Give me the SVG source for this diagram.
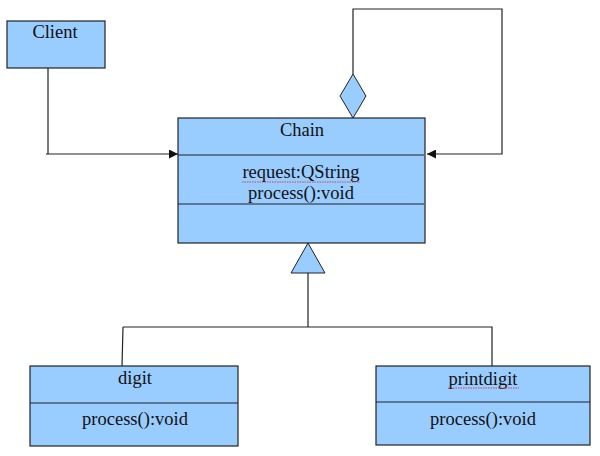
<svg xmlns="http://www.w3.org/2000/svg" width="600" height="456" viewBox="0 0 600 456">
<defs>
<style>
.box{fill:#99ccff;stroke:#222;stroke-width:1.2}
.div{stroke:#222;stroke-width:1.2;fill:none}
.ln{stroke:#222;stroke-width:1.2;fill:none}
text{font-family:"Liberation Serif","Times New Roman",serif;font-size:18.5px;fill:#111;text-anchor:middle}
.sq{stroke:#d22;stroke-width:0.8;fill:none;stroke-dasharray:1.5 1}
</style>
<marker id="arr" viewBox="0 0 10 10" refX="10" refY="5" markerWidth="9" markerHeight="9" markerUnits="userSpaceOnUse" orient="auto">
<path d="M0,0 L10,5 L0,10 z" fill="#111"/>
</marker>
</defs>
<rect width="600" height="456" fill="#fff"/>
<g id="connectors">
<path class="ln" d="M48,68 V154 M46,154 H178" marker-end="url(#arr)"/>
<path class="ln" d="M353,74 V9 H502 V154 H427" marker-end="url(#arr)"/>
<polygon points="353,74 366,96 353,118 340,96" fill="#99ccff" stroke="#222" stroke-width="1"/>
<polygon points="308,243 325,273 291,273" fill="#99ccff" stroke="#222" stroke-width="1"/>
<path class="ln" d="M308,273 V327 M123,327 H492 V366 M123,327 L122,366"/>
</g>
<g id="client">
<rect class="box" x="7" y="21" width="98" height="47"/>
<text x="55" y="38">Client</text>
</g>
<g id="chain">
<rect class="box" x="178" y="118" width="247" height="125"/>
<line class="div" x1="178" y1="155" x2="424" y2="155"/>
<line class="div" x1="178" y1="204" x2="424" y2="204"/>
<text x="302" y="136">Chain</text>
<text x="301" y="178">request:QString</text>
<path class="sq" d="M242,182 H360"/>
<text x="301" y="199">process():void</text>
</g>
<g id="digit">
<rect class="box" x="30" y="366" width="208" height="80"/>
<line class="div" x1="30" y1="403" x2="238" y2="403"/>
<text x="135" y="384">digit</text>
<text x="135" y="425">process():void</text>
</g>
<g id="printdigit">
<rect class="box" x="376" y="366" width="214" height="79"/>
<line class="div" x1="376" y1="402" x2="590" y2="402"/>
<text x="483" y="385">printdigit</text>
<path class="sq" d="M448,388 H519"/>
<text x="483" y="425">process():void</text>
</g>
</svg>
